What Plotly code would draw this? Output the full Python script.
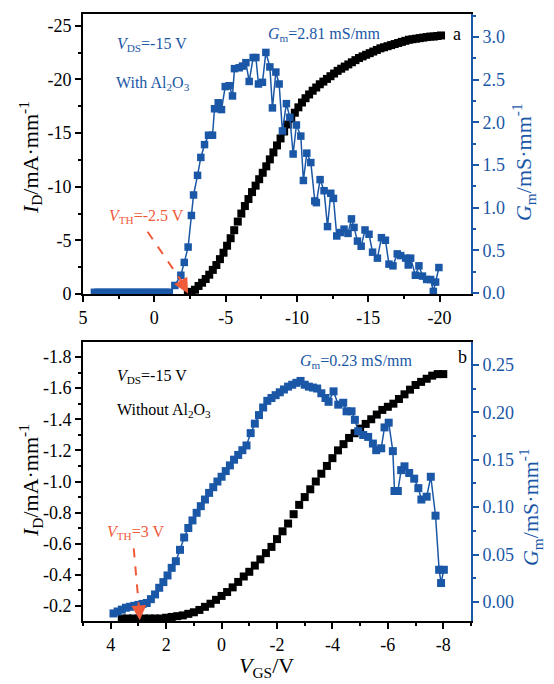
import plotly.graph_objects as go

BLUE = "#1a57a6"
RED = "#ef5a3a"
FONT = "Liberation Serif"

# ---------------- panel a (with Al2O3) ----------------
vgs_a_id = [-2.35, -2.6, -2.85, -3.1, -3.35, -3.6, -3.85, -4.1, -4.35, -4.6, -4.85, -5.1,
            -5.35, -5.6, -5.85, -6.1, -6.35, -6.6, -6.85, -7.1, -7.35, -7.6, -7.85, -8.1,
            -8.35, -8.6, -8.85, -9.1, -9.35, -9.6, -9.85, -10.1, -10.35, -10.6, -10.85, -11.1,
            -11.35, -11.6, -11.85, -12.1, -12.35, -12.6, -12.85, -13.1, -13.35, -13.6, -13.85,
            -14.1, -14.35, -14.6, -14.85, -15.1, -15.35, -15.6, -15.85, -16.1, -16.35, -16.6,
            -16.85, -17.1, -17.35, -17.6, -17.85, -18.1, -18.35, -18.6, -18.85, -19.1, -19.35,
            -19.6, -19.85, -20.1]
id_a = [0.0, -0.2, -0.4, -0.75, -1.05, -1.4, -1.8, -2.25, -2.7, -3.25, -3.85, -4.5,
        -5.2, -5.95, -6.75, -7.5, -8.2, -8.85, -9.5, -10.1, -10.7, -11.3, -11.9, -12.55,
        -13.2, -13.85, -14.5, -15.15, -15.8, -16.35, -16.9, -17.4, -17.85, -18.25, -18.6, -18.95,
        -19.25, -19.55, -19.8, -20.05, -20.3, -20.55, -20.8, -21.0, -21.2, -21.4, -21.6,
        -21.8, -22.0, -22.15, -22.3, -22.45, -22.6, -22.75, -22.9, -23.0, -23.1, -23.2,
        -23.3, -23.4, -23.5, -23.6, -23.7, -23.75, -23.8, -23.85, -23.9, -23.95, -24.0,
        -24.0, -24.05, -24.1]

vgs_a_gm = [4.2, 3.95, 3.7, 3.45, 3.2, 2.95, 2.7, 2.45, 2.2, 1.95, 1.7, 1.45, 1.2, 0.95,
            0.7, 0.45, 0.2, -0.05, -0.3, -0.55, -0.8, -1.05,
            -1.44, -1.86, -2.1, -2.37, -2.6, -2.75, -3.03, -3.26, -3.52, -3.8, -4.08, -4.22,
            -4.48, -4.71, -4.97, -5.25, -5.48, -5.62, -5.95, -6.18, -6.42, -6.65, -6.93, -7.12,
            -7.3, -7.58, -7.82, -8.1, -8.28, -8.52, -8.75, -8.98, -9.26, -9.5, -9.73, -9.96,
            -10.27, -10.45, -10.69, -10.97, -11.25, -11.36, -11.62, -11.9, -12.14, -12.37,
            -12.56, -12.79, -13.07, -13.3, -13.58, -13.82, -14.0, -14.24, -14.5, -14.77,
            -15.05, -15.3, -15.64, -15.92, -16.2, -16.45, -16.73, -17.03, -17.27, -17.62,
            -17.8, -17.97, -18.3, -18.55, -18.8, -19.09, -19.37, -19.56, -19.72, -19.95]
gm_a = [0.01] * 22 + [
    0.09, 0.21, 0.36, 0.54, 0.91, 1.15, 1.38, 1.59, 1.74, 1.85, 1.85, 2.16,
    2.23, 2.15, 2.42, 2.43, 2.31, 2.63, 2.64, 2.66, 2.70, 2.48, 2.76, 2.76,
    2.45, 2.47, 2.82, 2.65, 2.17, 2.59, 2.45, 1.90, 2.22, 2.06, 1.63, 1.97,
    1.84, 1.32, 1.64, 1.53, 1.08, 1.06, 1.33, 1.20, 0.78, 1.17,
    1.11, 0.67, 0.71, 0.75, 0.70, 0.87, 0.77, 0.61, 0.55, 0.74,
    0.69, 0.48, 0.41, 0.65, 0.62, 0.34, 0.32, 0.46, 0.44, 0.41,
    0.33, 0.41, 0.21, 0.32, 0.20, 0.16, 0.16, 0.02, 0.13, 0.30]

# ---------------- panel b (without Al2O3) ----------------
vgs_b_id = [3.6, 3.4, 3.2, 3.0, 2.8, 2.6, 2.4, 2.2, 2.0, 1.8, 1.6, 1.4, 1.2, 1.0, 0.8, 0.6,
            0.4, 0.2, 0.0, -0.2, -0.4, -0.6, -0.8, -1.0, -1.2, -1.4, -1.6, -1.8, -2.0, -2.2,
            -2.4, -2.6, -2.8, -3.0, -3.2, -3.4, -3.6, -3.8, -4.0, -4.2, -4.4, -4.6, -4.8,
            -5.0, -5.2, -5.4, -5.6, -5.8, -6.0, -6.2, -6.4, -6.6, -6.8, -7.0, -7.2, -7.4,
            -7.6, -7.8, -8.0]
id_b = [-0.12, -0.12, -0.12, -0.12, -0.12, -0.12, -0.12, -0.12, -0.125, -0.13, -0.135,
        -0.14, -0.15, -0.16, -0.175, -0.195, -0.215, -0.24, -0.265, -0.29, -0.32, -0.355,
        -0.39, -0.42, -0.46, -0.5, -0.54, -0.58, -0.63, -0.68, -0.73, -0.79, -0.85, -0.9,
        -0.95, -1.0, -1.05, -1.1, -1.15, -1.2, -1.24, -1.28, -1.31, -1.34, -1.37, -1.4,
        -1.43, -1.46, -1.48, -1.5, -1.53, -1.56, -1.59, -1.62, -1.64, -1.66, -1.68, -1.69,
        -1.69]

vgs_b_gm = [3.9, 3.75, 3.6, 3.45, 3.3, 3.15, 3.0, 2.85, 2.7, 2.55, 2.4, 2.25, 2.1, 1.95,
            1.8, 1.65, 1.5, 1.35, 1.2, 1.05, 0.9, 0.75, 0.6, 0.45, 0.3, 0.15, 0.0, -0.15,
            -0.3, -0.45, -0.6, -0.75, -0.9, -1.05, -1.2, -1.35, -1.5, -1.65, -1.8, -1.95,
            -2.1, -2.25, -2.4, -2.55, -2.7, -2.85, -3.0, -3.15, -3.3, -3.45, -3.6, -3.75,
            -3.86, -4.04, -4.21, -4.39, -4.51, -4.69, -4.81, -4.93, -5.11, -5.29, -5.46,
            -5.58, -5.76, -5.88, -6.03, -6.18, -6.24, -6.36, -6.48, -6.6, -6.77, -6.95,
            -7.1, -7.21, -7.4, -7.55, -7.72, -7.85, -7.92, -8.02]
gm_b = [-0.012, -0.01, -0.008, -0.006, -0.005, -0.004, -0.003, -0.002, -0.001, 0.003,
        0.008, 0.015, 0.021, 0.028, 0.036, 0.043, 0.055, 0.068, 0.078, 0.086, 0.094, 0.101,
        0.108, 0.115, 0.121, 0.127, 0.132, 0.138, 0.144, 0.150, 0.155, 0.160, 0.165, 0.178,
        0.188, 0.197, 0.205, 0.212, 0.215, 0.218, 0.221, 0.224, 0.227, 0.229, 0.231, 0.233,
        0.229, 0.227, 0.226, 0.225, 0.220, 0.215, 0.211, 0.222, 0.208, 0.210, 0.201, 0.201,
        0.192, 0.180, 0.176, 0.174, 0.167, 0.160, 0.162, 0.184, 0.189, 0.159, 0.117, 0.117,
        0.139, 0.143, 0.136, 0.130, 0.120, 0.108, 0.111, 0.132, 0.091, 0.034, 0.020, 0.034]

# ---------------- tick labels ----------------
xa_vals = [5, 0, -5, -10, -15, -20]
xa_text = ["5", "0", "-5", "-10", "-15", "-20"]
ya_vals = [0, -5, -10, -15, -20, -25]
ya_text = ["0", "-5", "-10", "-15", "-20", "-25"]
ya2_vals = [0, 0.5, 1.0, 1.5, 2.0, 2.5, 3.0]
ya2_text = ["0.0", "0.5", "1.0", "1.5", "2.0", "2.5", "3.0"]
xb_vals = [4, 2, 0, -2, -4, -6, -8]
xb_text = ["4", "2", "0", "-2", "-4", "-6", "-8"]
yb_vals = [-0.2, -0.4, -0.6, -0.8, -1.0, -1.2, -1.4, -1.6, -1.8]
yb_text = ["-0.2", "-0.4", "-0.6", "-0.8", "-1.0", "-1.2", "-1.4", "-1.6", "-1.8"]
yb2_vals = [0.0, 0.05, 0.10, 0.15, 0.20, 0.25]
yb2_text = ["0.00", "0.05", "0.10", "0.15", "0.20", "0.25"]

fig = go.Figure()
fig.add_trace(go.Scatter(x=vgs_a_id, y=id_a, mode="markers", xaxis="x", yaxis="y",
                         marker=dict(symbol="square", size=8, color="black"), showlegend=False))
fig.add_trace(go.Scatter(x=vgs_a_gm, y=gm_a, mode="lines+markers", xaxis="x", yaxis="y2",
                         line=dict(color=BLUE, width=1.5),
                         marker=dict(symbol="square", size=7.5, color=BLUE), showlegend=False))
fig.add_trace(go.Scatter(x=vgs_b_id, y=id_b, mode="markers", xaxis="x2", yaxis="y3",
                         marker=dict(symbol="square", size=8, color="black"), showlegend=False))
fig.add_trace(go.Scatter(x=vgs_b_gm, y=gm_b, mode="lines+markers", xaxis="x2", yaxis="y4",
                         line=dict(color=BLUE, width=1.5),
                         marker=dict(symbol="square", size=8, color=BLUE), showlegend=False))

tickfont = dict(family=FONT, size=18, color="black")
bluefont = dict(family=FONT, size=18, color=BLUE)


def xax(domain_anchor, rng, vals, text, minor_dt):
    return dict(anchor=domain_anchor, domain=[0, 1], range=rng, tickmode="array",
                tickvals=vals, ticktext=text, ticks="outside", ticklen=6, tickwidth=1.5,
                tickcolor="black", showline=True, linecolor="black", linewidth=2,
                mirror=True, showgrid=False, zeroline=False, tickfont=tickfont,
                minor=dict(ticks="outside", ticklen=3, tickwidth=1.5, dtick=minor_dt,
                           tick0=0, tickcolor="black", showgrid=False))


def yax(anchor, domain, rng, vals, text, minor_dt, color="black", side="left",
        overlay=None, font=tickfont):
    d = dict(anchor=anchor, range=rng, tickmode="array", tickvals=vals, ticktext=text,
             ticks="outside", ticklen=6, tickwidth=1.5, tickcolor=color, showline=True,
             linecolor=color, linewidth=2, showgrid=False, zeroline=False, tickfont=font,
             side=side,
             minor=dict(ticks="outside", ticklen=3, tickwidth=1.5, dtick=minor_dt, tick0=0,
                        tickcolor=color, showgrid=False))
    if overlay:
        d["overlaying"] = overlay
    else:
        d["domain"] = domain
    return d


top_dom = [0.5387, 1.0]
bot_dom = [0.0, 0.4596]

fig.update_layout(
    width=554, height=684,
    margin=dict(l=83, r=83, t=14, b=63),
    paper_bgcolor="white", plot_bgcolor="white",
    font=dict(family=FONT, color="black"),
    xaxis=xax("y", [5, -22.2], xa_vals, xa_text, 2.5),
    yaxis=yax("x", top_dom, [0, -26.1], ya_vals, ya_text, 2.5),
    yaxis2=yax("x", None, [-0.01, 3.27], ya2_vals, ya2_text, 0.25, color=BLUE,
               side="right", overlay="y", font=bluefont),
    xaxis2=xax("y3", [5, -9], xb_vals, xb_text, 1),
    yaxis3=yax("x2", bot_dom, [-0.104, -1.896], yb_vals, yb_text, 0.1),
    yaxis4=yax("x2", None, [-0.020, 0.274], yb2_vals, yb2_text, 0.025, color=BLUE,
               side="right", overlay="y3", font=bluefont),
)

ann = []


def txt(text, x, y, color="black", size=16, xanchor="left", angle=0):
    ann.append(dict(text=text, x=x, y=y, xref="paper", yref="paper", showarrow=False,
                    xanchor=xanchor, yanchor="middle", textangle=angle,
                    font=dict(family=FONT, size=size, color=color)))


# panel a texts
txt("<i>V</i><sub>DS</sub>=-15 V", 0.0825, 0.949, BLUE)
txt("With Al<sub>2</sub>O<sub>3</sub>", 0.080, 0.886, BLUE)
txt("<i>G</i><sub>m</sub>=2.81 mS/mm", 0.472, 0.967, BLUE)
txt("a", 0.964, 0.967, "black", 18, "center")
txt("<i>V</i><sub>TH</sub>=-2.5 V", 0.062, 0.6656, RED)
# panel b texts
txt("<i>V</i><sub>DS</sub>=-15 V", 0.0825, 0.402)
txt("Without Al<sub>2</sub>O<sub>3</sub>", 0.0825, 0.346)
txt("<i>G</i><sub>m</sub>=0.23 mS/mm", 0.554, 0.4267, BLUE)
txt("b", 0.979, 0.435, "black", 18, "center")
txt("<i>V</i><sub>TH</sub>=3 V", 0.057, 0.1466, RED)
# axis titles
txt("<i>I</i><sub>D</sub>/mA·mm<sup>-1</sup>", -0.137, 0.764, "black", 22, "center", -90)
txt("<i>G</i><sub>m</sub>/mS·mm<sup>-1</sup>", 1.134, 0.756, BLUE, 22, "center", -90)
txt("<i>I</i><sub>D</sub>/mA·mm<sup>-1</sup>", -0.137, 0.232, "black", 22, "center", -90)
txt("<i>G</i><sub>m</sub>/mS·mm<sup>-1</sup>", 1.155, 0.188, BLUE, 22, "center", -90)
txt("<i>V</i><sub>GS</sub>/V", 0.474, -0.076, "black", 22, "center")

# VTH arrowheads
ann.append(dict(x=-2.37, y=-0.05, xref="x", yref="y", ax=-1.75, ay=-1.5, axref="x",
                ayref="y", text="", showarrow=True, arrowhead=2, arrowsize=1.2,
                arrowwidth=2.5, arrowcolor=RED))
ann.append(dict(x=2.95, y=-0.108, xref="x2", yref="y3", ax=2.98, ay=-0.19, axref="x2",
                ayref="y3", text="", showarrow=True, arrowhead=2, arrowsize=1.2,
                arrowwidth=2.5, arrowcolor=RED))
fig.update_layout(annotations=ann)

fig.add_shape(type="line", xref="x", yref="y", x0=0.47, y0=-5.8, x1=-1.85, y1=-1.3,
              line=dict(color=RED, width=2, dash="dash"))
fig.add_shape(type="line", xref="x2", yref="y3", x0=3.17, y0=-0.57, x1=2.98, y1=-0.19,
              line=dict(color=RED, width=2, dash="dash"))

fig.write_html("out.html")
